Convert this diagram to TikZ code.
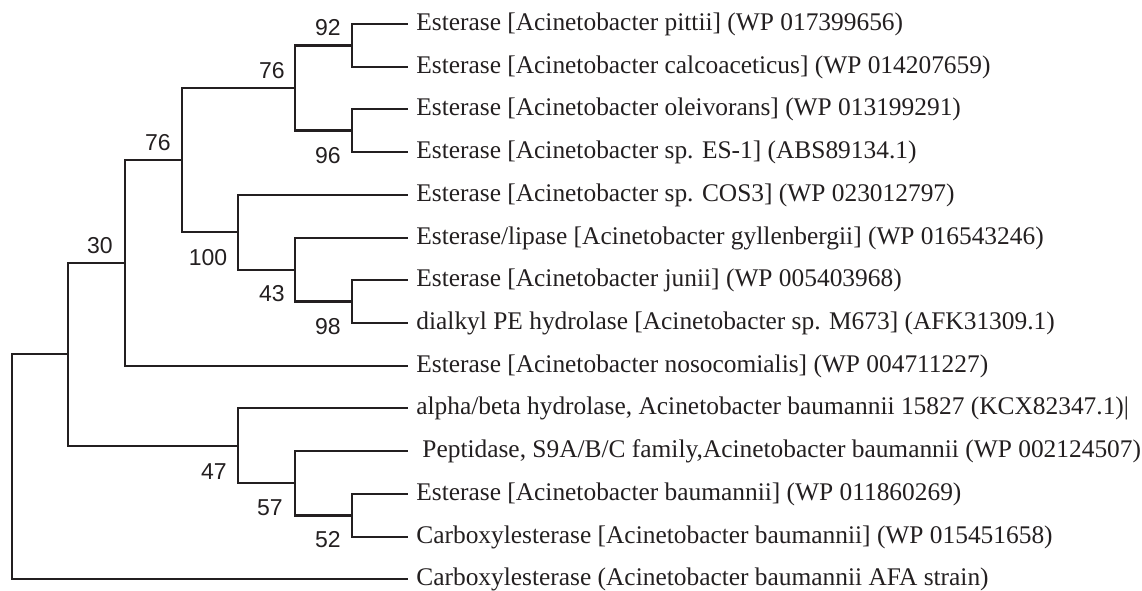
\documentclass[tikz,border=0pt]{standalone}
\usepackage{fontspec}
\setmainfont{Liberation Serif}
\newfontfamily\bsfont{Liberation Sans}
\usetikzlibrary{positioning}
\definecolor{Ink}{HTML}{231F20}
\tikzset{
  branch/.style={draw=Ink, line width=1.1pt},
  taxon/.style={inner sep=0pt, font=\fontsize{12.7}{15}\selectfont, text=Ink},
  support/.style={inner sep=0pt, font=\bsfont\fontsize{11.5}{13}\selectfont, text=Ink}
}

\begin{document}
\begin{tikzpicture}[x=0.5pt,y=-0.5pt]
  \useasboundingbox (0,0) rectangle (1142,590);
  % leaf tips
  \coordinate (l1) at (408,24);
  \coordinate (l2) at (408,67);
  \coordinate (l3) at (408,109);
  \coordinate (l4) at (408,152);
  \coordinate (l5) at (408,195);
  \coordinate (l6) at (408,238);
  \coordinate (l7) at (408,280);
  \coordinate (l8) at (408,323);
  \coordinate (l9) at (408,366);
  \coordinate (l10) at (408,408);
  \coordinate (l11) at (408,451);
  \coordinate (l12) at (408,494);
  \coordinate (l13) at (408,537);
  \coordinate (l14) at (408,579);
  % internal nodes
  \coordinate (n92) at (352,45.5);
  \coordinate (n96) at (352,130.5);
  \coordinate (n76a) at (295,88);
  \coordinate (n98) at (352,301.5);
  \coordinate (n43) at (295,270);
  \coordinate (n100) at (238,232);
  \coordinate (n76b) at (182,160);
  \coordinate (n30) at (125,263);
  \coordinate (n52) at (352,515.5);
  \coordinate (n57) at (295,483);
  \coordinate (n47) at (238,446);
  \coordinate (nA) at (68,354);
  \coordinate (root) at (12,466.5);
  % branches
  \draw[branch] (root) |- (nA) (root) |- (l14);
  \draw[branch] (nA) |- (n30) (nA) |- (n47);
  \draw[branch] (n30) |- (n76b) (n30) |- (l9);
  \draw[branch] (n76b) |- (n76a) (n76b) |- (n100);
  \draw[branch] (n76a) |- (n92) (n76a) |- (n96);
  \draw[branch] (n92) |- (l1) (n92) |- (l2);
  \draw[branch] (n96) |- (l3) (n96) |- (l4);
  \draw[branch] (n100) |- (l5) (n100) |- (n43);
  \draw[branch] (n43) |- (l6) (n43) |- (n98);
  \draw[branch] (n98) |- (l7) (n98) |- (l8);
  \draw[branch] (n47) |- (l10) (n47) |- (n57);
  \draw[branch] (n57) |- (l11) (n57) |- (n52);
  \draw[branch] (n52) |- (l12) (n52) |- (l13);
  % bootstrap values
  \node[support] (s92) at (328,28) {92};
  \node[support] (s76a) at (272,71) {76};
  \node[support] (s96) at (328,156) {96};
  \node[support] (s76b) at (158,143) {76};
  \node[support] (s100) at (208,258) {100};
  \node[support] (s43) at (272,294) {43};
  \node[support] (s98) at (328,327) {98};
  \node[support] (s30) at (100,246) {30};
  \node[support] (s47) at (214,472) {47};
  \node[support] (s57) at (270,508) {57};
  \node[support] (s52) at (328,540) {52};
  % taxa
  \node[taxon,right=4pt of l1] (t1) {Esterase [Acinetobacter pittii] (WP 017399656)};
  \node[taxon,right=4pt of l2] (t2) {Esterase [Acinetobacter calcoaceticus] (WP 014207659)};
  \node[taxon,right=4pt of l3] (t3) {Esterase [Acinetobacter oleivorans] (WP 013199291)};
  \node[taxon,right=4pt of l4] (t4) {Esterase [Acinetobacter sp. ES-1] (ABS89134.1)};
  \node[taxon,right=4pt of l5] (t5) {Esterase [Acinetobacter sp. COS3] (WP 023012797)};
  \node[taxon,right=4pt of l6] (t6) {Esterase/lipase [Acinetobacter gyllenbergii] (WP 016543246)};
  \node[taxon,right=4pt of l7] (t7) {Esterase [Acinetobacter junii] (WP 005403968)};
  \node[taxon,right=4pt of l8] (t8) {dialkyl PE hydrolase [Acinetobacter sp. M673] (AFK31309.1)};
  \node[taxon,right=4pt of l9] (t9) {Esterase [Acinetobacter nosocomialis] (WP 004711227)};
  \node[taxon,right=4pt of l10] (t10) {alpha/beta hydrolase, Acinetobacter baumannii 15827 (KCX82347.1)|};
  \node[taxon,right=7pt of l11] (t11) {Peptidase, S9A/B/C family,Acinetobacter baumannii (WP 002124507)};
  \node[taxon,right=4pt of l12] (t12) {Esterase [Acinetobacter baumannii] (WP 011860269)};
  \node[taxon,right=4pt of l13] (t13) {Carboxylesterase [Acinetobacter baumannii] (WP 015451658)};
  \node[taxon,right=4pt of l14] (t14) {Carboxylesterase (Acinetobacter baumannii AFA strain)};
\end{tikzpicture}
\end{document}
